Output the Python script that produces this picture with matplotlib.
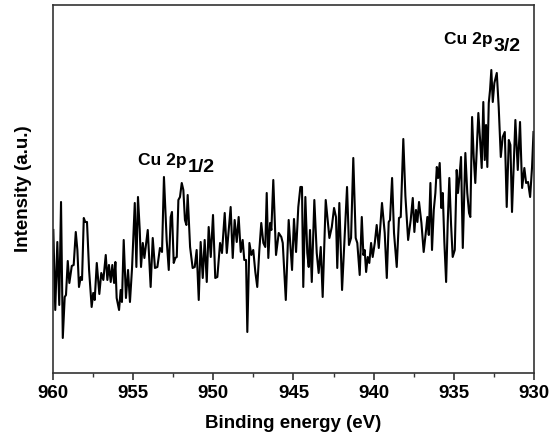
import matplotlib
matplotlib.use("Agg")
import matplotlib.pyplot as plt
from matplotlib.ticker import MultipleLocator

plt.rcParams['font.family'] = ['Liberation Sans', 'DejaVu Sans']
plt.rcParams['font.weight'] = 'bold'

# Binding energy (eV) from left to right
energy = [
    959.98, 959.86, 959.73, 959.61, 959.50, 959.39, 959.27, 959.19, 959.08, 958.98,
    958.83, 958.71, 958.58, 958.48, 958.38, 958.27, 958.19, 958.08, 957.99, 957.88,
    957.75, 957.59, 957.49, 957.40, 957.27, 957.11, 956.99, 956.86, 956.71, 956.61,
    956.51, 956.40, 956.30, 956.19, 956.11, 956.03, 955.88, 955.78, 955.70, 955.59,
    955.45, 955.32, 955.20, 955.07, 954.90, 954.80, 954.70, 954.59, 954.51, 954.40,
    954.30, 954.09, 953.91, 953.78, 953.64, 953.49, 953.33, 953.20, 953.08,
    952.91, 952.78, 952.66, 952.58, 952.47, 952.37, 952.28, 952.18, 952.08, 951.97,
    951.87, 951.77, 951.68, 951.60, 951.45, 951.29, 951.16, 951.04, 950.91, 950.79,
    950.66, 950.54, 950.41, 950.29, 950.16, 950.02, 949.88, 949.75, 949.58, 949.46,
    949.29, 949.16, 949.04, 948.92, 948.79, 948.67, 948.54, 948.42, 948.29, 948.17,
    948.07, 947.96, 947.88, 947.75, 947.63, 947.51, 947.38, 947.26, 947.13, 947.01,
    946.88, 946.76, 946.67, 946.57, 946.46, 946.38, 946.26, 946.09, 945.92, 945.76,
    945.67, 945.48, 945.30, 945.09, 944.97, 944.84, 944.70, 944.57, 944.47, 944.39,
    944.26, 944.14, 944.05, 943.97, 943.86, 943.70, 943.55, 943.43, 943.30, 943.18,
    942.99, 942.76, 942.61, 942.47, 942.35, 942.27, 942.14, 941.97, 941.80, 941.66,
    941.54, 941.41, 941.27, 941.12, 941.02, 940.87, 940.74, 940.64, 940.56, 940.47,
    940.37, 940.27, 940.16, 940.06, 939.93, 939.81, 939.68, 939.48, 939.31, 939.18,
    939.06, 938.98, 938.85, 938.73, 938.56, 938.42, 938.31, 938.15, 938.02, 937.85,
    937.69, 937.56, 937.46, 937.36, 937.27, 937.17, 937.02, 936.88, 936.73, 936.65,
    936.56, 936.46, 936.36, 936.25, 936.15, 936.06, 935.98, 935.88, 935.78, 935.69,
    935.59, 935.48, 935.38, 935.28, 935.17, 935.07, 934.94, 934.82, 934.74, 934.65,
    934.55, 934.44, 934.28, 934.16, 934.05, 933.97, 933.86, 933.76, 933.66, 933.47,
    933.36, 933.26, 933.16, 933.07, 932.99, 932.91, 932.82, 932.74, 932.66, 932.57,
    932.47, 932.32, 932.20, 932.07, 931.95, 931.82, 931.70, 931.57, 931.47, 931.37,
    931.16, 931.01, 930.87, 930.74, 930.60, 930.49, 930.37, 930.24, 930.12, 930.03,
]

# Intensity (a.u.)
intensity = [
    143, 63, 131, 68, 171, 35, 76, 78, 112, 90,
    107, 108, 141, 123, 86, 96, 93, 155, 151, 151,
    103, 66, 80, 73, 110, 79, 100, 93, 118, 93,
    108, 91, 108, 90, 111, 75, 63, 83, 71, 133,
    75, 103, 71, 105, 170, 106, 176, 143, 106, 130,
    115, 143, 86, 135, 105, 106, 125, 121, 196,
    133, 103, 156, 161, 110, 115, 116, 173, 176, 190,
    183, 153, 148, 178, 126, 105, 106, 123, 73, 131,
    95, 133, 91, 146, 116, 158, 95, 96, 130, 120,
    160, 120, 143, 166, 115, 153, 131, 156, 121, 133,
    113, 113, 41, 130, 118, 123, 101, 86, 123, 150,
    130, 126, 180, 115, 150, 143, 193, 118, 140, 136,
    130, 73, 153, 103, 154, 121, 166, 186, 186, 86,
    176, 120, 106, 143, 91, 173, 120, 100, 126, 76,
    173, 135, 146, 165, 156, 105, 170, 83, 140, 186,
    128, 135, 215, 135, 130, 98, 156, 118, 123, 101,
    116, 110, 130, 116, 130, 148, 125, 170, 140, 95,
    151, 153, 195, 140, 106, 155, 156, 234, 177, 133,
    153, 175, 141, 163, 151, 171, 150, 121, 143, 156,
    138, 190, 123, 163, 180, 206, 195, 210, 165, 180,
    131, 91, 150, 195, 148, 116, 123, 203, 180, 196,
    216, 125, 220, 180, 160, 156, 256, 216, 190, 260,
    233, 205, 271, 213, 248, 206, 270, 283, 303, 271,
    290, 300, 266, 216, 236, 241, 166, 233, 228, 161,
    253, 203, 251, 185, 205, 190, 191, 176, 206, 241,
]

xticks = [960, 955, 950, 945, 940, 935, 930]

fig = plt.figure(figsize=(5.51, 4.37), dpi=100)
ax = fig.add_axes([0.0962, 0.1465, 0.8729, 0.8421])

ax.plot(energy, intensity, color='black', lw=1.5)

ax.set_xlim(960, 930)
ax.set_ylim(0, 368)
ax.set_xticks(xticks)
ax.xaxis.set_minor_locator(MultipleLocator(2.5))
ax.set_yticks([])
ax.tick_params(axis='x', which='major', direction='out', length=5, width=1.2,
               labelsize=13.5, color='#333333', pad=4)
ax.tick_params(axis='x', which='minor', direction='out', length=3, width=1.0,
               color='#333333')
for s in ax.spines.values():
    s.set_color('#333333')
    s.set_linewidth(1.2)

ax.set_xlabel('Binding energy (eV)', fontsize=13.5, fontweight='bold', labelpad=9)
ax.set_ylabel('Intensity (a.u.)', fontsize=13.5, fontweight='bold', labelpad=15)

# peak labels with nearly full-size lowered subscripts
t1 = ax.text(954.68, 208, 'Cu 2p', fontsize=12.5, fontweight='bold',
             ha='left', va='baseline')
ax.annotate('1/2', xy=(1, 0), xycoords=t1, xytext=(0.5, -2.6),
            textcoords='offset points', fontsize=14, fontweight='bold',
            ha='left', va='baseline')
t2 = ax.text(935.61, 329, 'Cu 2p', fontsize=12.5, fontweight='bold',
             ha='left', va='baseline')
ax.annotate('3/2', xy=(1, 0), xycoords=t2, xytext=(0.5, -2.6),
            textcoords='offset points', fontsize=14, fontweight='bold',
            ha='left', va='baseline')

fig.savefig('out.png', dpi=100)
